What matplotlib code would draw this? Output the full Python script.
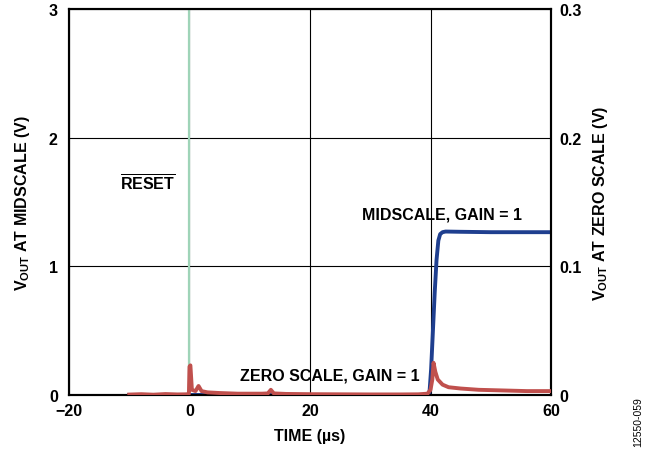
import numpy as np
from matplotlib import pyplot as plt

plt.rcParams['font.family'] = ['Liberation Sans', 'DejaVu Sans']
plt.rcParams['font.weight'] = 'bold'
plt.rcParams['mathtext.fontset'] = 'custom'
plt.rcParams['mathtext.rm'] = 'Liberation Sans:bold'
plt.rcParams['mathtext.bf'] = 'Liberation Sans:bold'

# midscale output (left axis, V)
mid_t = [-10, 39.8, 40.1, 40.4, 40.7, 41.0, 41.3, 41.6, 42.0, 42.5, 45, 50, 60]
mid_v = [0.0, 0.0, 0.2, 0.5, 0.8, 1.05, 1.2, 1.25, 1.265, 1.27, 1.268, 1.265, 1.265]

# zero scale output (right axis, V)
zero_t = [-10, -8, -6, -4, -2, -0.5, -0.1, 0.0, 0.15, 0.4, 1.0, 1.5, 2.0, 3, 5, 8,
          12, 13, 13.5, 14, 16, 20, 25, 30, 35, 38, 39.5, 40.0, 40.3, 40.5, 40.8,
          41.2, 42, 43, 45, 48, 52, 56, 60]
zero_v = [0.0003, 0.0006, 0.0002, 0.0007, 0.0004, 0.0005, 0.0008, 0.022, 0.023,
          0.004, 0.003, 0.007, 0.003, 0.002, 0.0015, 0.001, 0.001, 0.0012, 0.004,
          0.0012, 0.0008, 0.0006, 0.0005, 0.0004, 0.0004, 0.0005, 0.001, 0.004,
          0.012, 0.025, 0.018, 0.012, 0.008, 0.006, 0.005, 0.004, 0.0035, 0.003,
          0.003]

reset_t = 0.0
fs = 11.5

fig = plt.figure(figsize=(6.57, 4.52), dpi=100)
ax = fig.add_axes([0.105, 0.124, 0.7337, 0.854])
ax2 = ax.twinx()

ax.grid(True, color='black', lw=0.8, zorder=1)
ax.axvline(reset_t, color='#9fd4b8', lw=1.6, zorder=2)
ax.plot(mid_t, mid_v, color='#1f3f8f', lw=2.8, zorder=3)
ax2.plot(zero_t, zero_v, color='#c0504d', lw=2.8, zorder=4)

ax.set_xlim(-20, 60)
ax.set_ylim(0, 3)
ax2.set_ylim(0, 0.3)
ax.set_xticks([-20, 0, 20, 40, 60])
ax.set_xticklabels(['\u221220', '0', '20', '40', '60'])
ax.set_yticks([0, 1, 2, 3])
ax2.set_yticks([0, 0.1, 0.2, 0.3])
ax2.set_yticklabels(['0', '0.1', '0.2', '0.3'])

for a in (ax, ax2):
    a.tick_params(length=0, labelsize=fs, pad=8)
    for s in a.spines.values():
        s.set_linewidth(1.5)
ax.tick_params(axis='x', pad=6)
ax2.tick_params(axis='y', pad=6)

ax.set_xlabel('TIME (\u00b5s)', fontsize=fs, fontweight='bold', labelpad=7)
ax.set_ylabel(r'V$_{\mathrm{OUT}}$ AT MIDSCALE (V)', fontsize=fs, fontweight='bold', labelpad=12)
ax2.set_ylabel(r'V$_{\mathrm{OUT}}$ AT ZERO SCALE (V)', fontsize=fs, fontweight='bold', labelpad=7)

ax.text(-6.9, 1.65, r'$\overline{\mathrm{RESET}}$', fontsize=fs, ha='center', va='center')
ax.text(41.9, 1.41, 'MIDSCALE, GAIN = 1', fontsize=fs, fontweight='bold', ha='center', va='center')
ax.text(23.3, 0.155, 'ZERO SCALE, GAIN = 1', fontsize=fs, fontweight='bold', ha='center', va='center',
        zorder=5)

fig.text(0.972, 0.011, '12550-059', rotation=90, fontsize=7.5, fontweight='normal', ha='center', va='bottom')

fig.savefig('out.png', dpi=100)
